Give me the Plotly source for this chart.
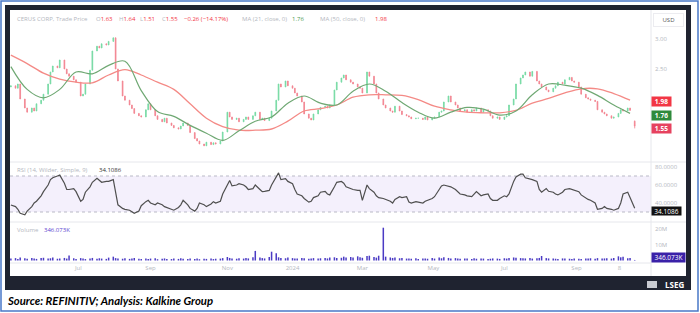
import pandas as pd
import plotly.graph_objects as go

# ---------------- data ----------------
first_open = 2.20
closes = [
    2.22, 2.18, 2.25, 2.00, 1.85, 1.78, 1.85, 1.80, 1.92, 1.98,
    2.08, 2.25, 2.45, 2.55, 2.52, 2.65, 2.50, 2.42, 2.38, 2.32,
    2.28, 2.05, 2.08, 2.25, 2.48, 2.80, 2.88, 2.85, 2.92, 2.90,
    2.96, 3.02, 2.50, 2.30, 2.05, 1.98, 1.90, 1.84, 1.76, 1.72,
    1.70, 1.82, 1.92, 1.82, 1.72, 1.66, 1.62, 1.68, 1.60, 1.56,
    1.52, 1.50, 1.55, 1.60, 1.56, 1.44, 1.34, 1.30, 1.25, 1.22,
    1.28, 1.24, 1.27, 1.25, 1.30, 1.45, 1.78, 1.70, 1.66, 1.68,
    1.62, 1.66, 1.70, 1.66, 1.72, 1.78, 1.66, 1.68, 1.64, 1.68,
    1.80, 1.98, 2.25, 2.20, 2.30, 2.22, 2.18, 2.10, 2.05, 1.95,
    1.75, 1.68, 1.65, 1.75, 1.82, 1.86, 1.88, 1.85, 1.90, 2.15,
    2.28, 2.35, 2.40, 2.32, 2.28, 2.25, 2.20, 2.18, 2.10, 2.45,
    2.38, 2.25, 2.10, 2.00, 1.90, 1.85, 1.80, 1.78, 1.88, 1.80,
    1.74, 1.72, 1.70, 1.67, 1.68, 1.68, 1.66, 1.70, 1.65, 1.68,
    1.70, 1.78, 1.80, 1.95, 2.05, 1.95, 1.90, 1.85, 1.80, 1.82,
    1.78, 1.82, 1.80, 1.85, 1.78, 1.82, 1.80, 1.72, 1.68, 1.70,
    1.66, 1.70, 1.72, 1.90, 2.00, 2.25, 2.35, 2.40, 2.45, 2.38,
    2.46, 2.30, 2.25, 2.20, 2.15, 2.12, 2.18, 2.22, 2.28, 2.25,
    2.32, 2.36, 2.30, 2.28, 2.20, 2.08, 2.02, 2.00, 1.98, 1.96,
    1.82, 1.78, 1.75, 1.72, 1.68, 1.70, 1.76, 1.82, 1.80, 1.85,
    1.81, 1.55,
]
last_open, last_high, last_low, last_close = 1.63, 1.64, 1.51, 1.55
last_change, last_change_pct = -0.26, -14.17

rsi = [
    37.8, 36, 33, 28.5, 27, 31, 36, 40, 42, 48,
    52.6, 60, 66, 68, 70, 71, 62, 55, 55, 56,
    52.6, 42, 44, 52, 58, 63, 67.5, 65, 63, 64,
    64, 66, 50, 38, 34, 33, 32, 30, 28.5, 31,
    37, 41.5, 43, 40, 38, 40, 38, 36, 35, 33,
    32, 35, 38, 43, 38, 34, 31, 34, 40, 38,
    36, 39, 41.5, 40, 42, 50, 60, 65, 59, 60,
    61.5, 60, 58, 55, 56, 60, 55, 52.6, 53, 54,
    60, 68, 73.5, 66, 67, 64, 61.5, 55, 50, 48,
    45, 41, 42, 46, 48, 52, 53, 50, 49, 58,
    63, 64, 62, 58, 56, 55, 54, 54, 43, 60,
    56, 52, 48, 46, 45, 44, 42, 40, 44, 47,
    46, 47, 41, 40, 41.5, 41, 40, 42, 43, 45,
    47, 55, 59, 60, 59, 58, 55, 52.6, 50, 49,
    48, 47, 50, 52.6, 48, 49, 50, 45, 43, 43,
    45, 48, 47, 50, 64, 69, 72, 72, 68, 67,
    66, 64, 55, 52, 56, 53, 52, 50, 49, 52,
    55, 56, 55, 54, 52.6, 49, 45, 44, 43, 40,
    33, 34, 36, 34, 33, 32, 34, 40, 50, 52,
    46, 34.1086,
]

volume_m = [
    1.2, 1.5, 0.9, 1.8, 1.4, 1.1, 1.6, 1.3, 1.0, 1.5,
    1.7, 1.2, 1.4, 1.9, 1.1, 1.3, 1.6, 1.2, 3.2, 1.4,
    1.0, 1.5, 1.2, 0.9, 1.3, 1.6, 1.1, 1.4, 1.2, 1.0,
    1.8, 2.4, 1.5, 1.3, 1.1, 1.4, 1.0, 1.2, 1.5, 1.1,
    0.9, 1.3, 1.0, 1.2, 1.4, 0.8, 1.1, 1.3, 1.0, 0.9,
    1.2, 1.0, 1.4, 1.1, 0.9, 1.3, 1.0, 1.2, 0.8, 1.1,
    1.0, 1.3, 0.9, 1.1, 1.2, 1.5, 2.2, 1.6, 1.3, 1.1,
    1.4, 1.2, 1.6, 1.3, 2.0, 6.0, 1.8, 1.5, 1.3, 2.2,
    5.5, 4.5, 2.0, 1.6, 1.4, 1.8, 1.5, 1.2, 1.3, 1.6,
    1.4, 1.1, 1.3, 1.5, 1.2, 1.4, 1.6, 1.3, 1.8, 2.0,
    1.5, 1.7, 2.4, 1.9, 2.2, 1.8, 2.6, 2.0, 1.7, 2.8,
    3.0, 2.2, 1.8, 3.0, 20.5, 2.4, 1.9, 1.6, 1.8, 1.4,
    1.5, 1.2, 1.3, 1.1, 1.4, 1.0, 1.2, 1.3, 1.1, 1.5,
    1.2, 1.8, 1.4, 2.0, 1.6, 1.3, 1.5, 1.2, 1.1, 1.3,
    1.2, 1.0, 1.4, 1.1, 1.3, 1.2, 1.0, 1.1, 1.3, 1.2,
    1.0, 1.4, 1.2, 1.6, 1.9, 1.7, 1.5, 1.4, 1.3, 1.5,
    1.2, 1.4, 1.6, 2.8, 1.5, 1.3, 1.2, 1.1, 1.0, 1.3,
    1.2, 1.1, 1.0, 1.2, 1.1, 1.0, 1.3, 1.2, 1.4, 1.1,
    1.5, 1.2, 1.3, 1.4, 1.2, 1.6, 2.6, 2.0, 2.3, 1.4,
    1.5, 0.346073,
]

# moving averages, one reading every 5th bar
ma_step = 5
ma21 = [2.54, 2.16, 2.02, 2.16, 2.45, 2.42, 2.56, 2.63, 2.14, 1.79,
        1.71, 1.56, 1.43, 1.31, 1.47, 1.63, 1.70, 1.93, 2.05, 1.93,
        1.90, 2.13, 2.25, 2.13, 1.94, 1.78, 1.68, 1.78, 1.86, 1.83,
        1.73, 1.80, 2.07, 2.25, 2.23, 2.18, 2.06, 1.90, 1.76]
ma50 = [2.73, 2.59, 2.43, 2.33, 2.28, 2.27, 2.40, 2.49, 2.40, 2.28,
        2.16, 1.92, 1.68, 1.54, 1.48, 1.48, 1.50, 1.63, 1.80, 1.84,
        1.90, 2.03, 2.07, 2.07, 2.06, 1.99, 1.88, 1.82, 1.78, 1.77,
        1.77, 1.81, 1.93, 2.01, 2.10, 2.17, 2.17, 2.09, 1.98]
ma21_last, ma50_last = 1.76, 1.98
rsi_last = "34.1086"
volume_last = "346.073K"

x_tick_dates = ["2023-07-01", "2023-09-01", "2023-11-06", "2024-01-01", "2024-03-01",
                "2024-05-01", "2024-07-01", "2024-09-01", "2024-10-08"]
x_tick_text = ["Jul", "Sep", "Nov", "2024", "Mar", "May", "Jul", "Sep", "8"]

# ---------------- derived ----------------
dates = pd.bdate_range("2023-05-04", periods=len(closes), freq="2B")
opens = [first_open] + closes[:-1]
opens[-1] = last_open
highs = [max(o, c) for o, c in zip(opens, closes)]
lows = [min(o, c) for o, c in zip(opens, closes)]
highs[-1] = last_high
lows[-1] = last_low
ma_dates = dates[::ma_step]

W, H = 700, 313
def fx(p):
    return p / W
def fy(p):
    return 1 - p / H

FONT = "Open Sans"
GREY = "#b4b7c0"
RED = "#f23645"
GREEN = "#4c9a52"
INC = "#74d9a2"
DEC = "#f2838f"

fig = go.Figure()
fig.add_trace(go.Candlestick(
    x=dates, open=opens, high=highs, low=lows, close=closes,
    increasing=dict(line=dict(color=INC, width=0.8), fillcolor=INC),
    decreasing=dict(line=dict(color=DEC, width=0.8), fillcolor=DEC),
    whiskerwidth=0, xaxis="x", yaxis="y", hoverinfo="skip", showlegend=False))
fig.add_trace(go.Scatter(x=ma_dates, y=ma50, mode="lines",
                         line=dict(color="#f48a86", width=1.3, shape="spline"),
                         xaxis="x", yaxis="y", hoverinfo="skip", showlegend=False))
fig.add_trace(go.Scatter(x=ma_dates, y=ma21, mode="lines",
                         line=dict(color="#6fa873", width=1.2, shape="spline"),
                         xaxis="x", yaxis="y", hoverinfo="skip", showlegend=False))
fig.add_trace(go.Scatter(x=dates, y=rsi, mode="lines",
                         line=dict(color="#4f4f4f", width=1.2),
                         xaxis="x2", yaxis="y2", hoverinfo="skip", showlegend=False))
fig.add_trace(go.Bar(x=dates, y=[v * 1e6 for v in volume_m],
                     marker=dict(color="#4b3bc4", line=dict(width=0)),
                     xaxis="x3", yaxis="y3", hoverinfo="skip", showlegend=False))

x_range = ["2023-05-03 06:00", "2024-11-04"]
tickfont = dict(family=FONT, size=6, color=GREY)
common_x = dict(domain=[fx(10), fx(651)], showgrid=False, zeroline=False,
                showline=False, ticks="", type="date")
common_y = dict(side="right", showgrid=False, zeroline=False, showline=False,
                ticks="", tickfont=tickfont, ticklabelstandoff=3)

shapes = [
    dict(type="rect", xref="paper", yref="paper", x0=fx(1), x1=fx(698), y0=fy(311), y1=fy(1),
         line=dict(color="#4a78c8", width=1.5), fillcolor="rgba(0,0,0,0)", layer="below"),
    dict(type="rect", xref="paper", yref="paper", x0=fx(5), x1=fx(691), y0=fy(290), y1=fy(5),
         line=dict(width=0), fillcolor="#1f2330", layer="below"),
    dict(type="rect", xref="paper", yref="paper", x0=fx(10), x1=fx(686), y0=fy(276), y1=fy(10),
         line=dict(width=0), fillcolor="#ffffff", layer="below"),
    dict(type="rect", xref="paper", yref="y2", x0=fx(10), x1=fx(651), y0=30, y1=70,
         line=dict(width=0), fillcolor="#f4f0fc", layer="below"),
    dict(type="line", xref="paper", yref="y2", x0=fx(10), x1=fx(651), y0=70, y1=70,
         line=dict(color="#b9b9c6", width=1, dash="dot"), layer="below"),
    dict(type="line", xref="paper", yref="y2", x0=fx(10), x1=fx(651), y0=30, y1=30,
         line=dict(color="#b9b9c6", width=1, dash="dot"), layer="below"),
    dict(type="line", xref="paper", yref="paper", x0=fx(10), x1=fx(686), y0=fy(162), y1=fy(162),
         line=dict(color="#e6e7ec", width=1), layer="below"),
    dict(type="line", xref="paper", yref="paper", x0=fx(10), x1=fx(686), y0=fy(222), y1=fy(222),
         line=dict(color="#e6e7ec", width=1), layer="below"),
    dict(type="line", xref="paper", yref="paper", x0=fx(10), x1=fx(651), y0=fy(263), y1=fy(263),
         line=dict(color="#e6e7ec", width=1), layer="below"),
    dict(type="line", xref="paper", yref="paper", x0=fx(651), x1=fx(651), y0=fy(276), y1=fy(10),
         line=dict(color="#e6e7ec", width=1), layer="below"),
    dict(type="rect", xref="paper", yref="paper", x0=fx(647), x1=fx(657), y0=fy(288), y1=fy(281),
         line=dict(width=0), fillcolor="#c9cbd2", layer="above"),
]

def ann(x, y, text, color=GREY, size=6, xanchor="left", family=FONT, **kw):
    d = dict(x=fx(x), y=fy(y), xref="paper", yref="paper", text=text, showarrow=False,
             xanchor=xanchor, yanchor="middle", font=dict(family=family, size=size, color=color))
    d.update(kw)
    return d

def red(t):
    return f"<span style='color:{RED}'>{t}</span>"

annotations = [
    ann(15, 19, "CERUS CORP, Trade Price"),
    ann(94, 19, "O" + red(f"{last_open:.2f}")),
    ann(117, 19, "H" + red(f"{last_high:.2f}")),
    ann(138, 19, "L" + red(f"{last_low:.2f}")),
    ann(160, 19, "C" + red(f"{last_close:.2f}")),
    ann(182, 19, f"\u2212{abs(last_change):.2f} (\u2212{abs(last_change_pct):.2f}%)", color=RED),
    ann(240, 19, "MA (21, close, 0)"),
    ann(290, 19, f"{ma21_last:.2f}", color=GREEN),
    ann(318, 19, "MA (50, close, 0)"),
    ann(373, 19, f"{ma50_last:.2f}", color=RED),
    ann(15, 170, "RSI (14, Wilder, Simple, 9)"),
    ann(97, 170, rsi_last, color="#333333"),
    ann(15, 230, "Volume"),
    ann(42, 230, volume_last, color="#5b43d0"),
    # right axis tags
    ann(653, 20, "USD", color="#555555", size=6, bgcolor="#ffffff", bordercolor="#ececf0",
        borderwidth=1, width=27, height=10, borderpad=1, align="center"),
    ann(651, 101.5, f"<b>{ma50_last:.2f}</b>", color="white", size=6.5, bgcolor="#f23645",
        width=17, height=7, borderpad=1, align="center"),
    ann(651, 115, f"<b>{ma21_last:.2f}</b>", color="white", size=6.5, bgcolor="#2f8a3c",
        width=17, height=7, borderpad=1, align="center"),
    ann(651, 128.5, f"<b>{last_close:.2f}</b>", color="white", size=6.5, bgcolor="#e6425f",
        width=17, height=7, borderpad=1, align="center"),
    ann(651, 211.5, rsi_last, color="white", size=6.5, bgcolor="#111111",
        width=27, height=6, borderpad=1, align="center"),
    ann(651, 257, volume_last, color="white", size=6.5, bgcolor="#3a21a8",
        width=31, height=7, borderpad=1, align="center"),
    ann(686, 284, "<b>LSEG</b>", color="#ffffff", size=8, xanchor="right"),
    ann(5, 300, "<b><i>Source: REFINITIV; Analysis: Kalkine Group</i></b>", color="#000000",
        size=11.3, family="Lato"),
]

fig.update_layout(
    width=W, height=H, margin=dict(l=0, r=0, t=0, b=0),
    paper_bgcolor="#ffffff", plot_bgcolor="rgba(0,0,0,0)",
    hovermode=False, showlegend=False, bargap=0.35, boxgap=0.55,
    xaxis=dict(common_x, anchor="y", range=x_range, showticklabels=False,
               rangeslider=dict(visible=False)),
    xaxis2=dict(common_x, anchor="y2", matches="x", showticklabels=False),
    xaxis3=dict(common_x, anchor="y3", matches="x", showticklabels=True,
                tickvals=x_tick_dates, ticktext=x_tick_text, tickfont=tickfont),
    yaxis=dict(common_y, domain=[fy(162), fy(10)], range=[0.95, 3.483], anchor="x",
               tickvals=[2.5, 3.0], ticktext=["2.50", "3.00"]),
    yaxis2=dict(common_y, domain=[fy(222), fy(162)], range=[18.9, 85.56], anchor="x2",
                tickvals=[40, 60, 80], ticktext=["40.0000", "60.0000", "80.0000"]),
    yaxis3=dict(common_y, domain=[fy(263), fy(222)], range=[-1.56e6, 24.06e6], anchor="x3",
                tickvals=[1e7, 2e7], ticktext=["10M", "20M"]),
    shapes=shapes, annotations=annotations,
)

fig.write_html("out.html", config={"displayModeBar": False, "staticPlot": True})
